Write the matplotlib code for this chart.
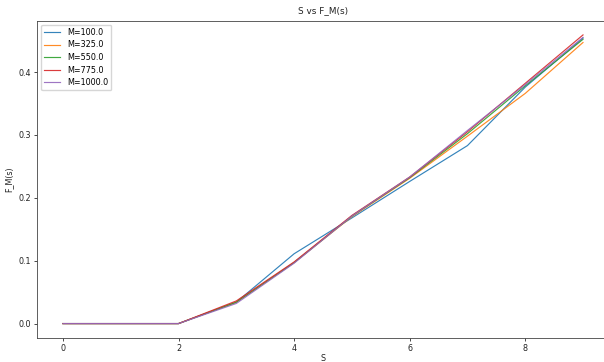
import matplotlib
matplotlib.use("Agg")
import matplotlib.pyplot as plt

s = [0, 1, 2, 3, 4, 5, 6, 7, 8, 9]
labels = ["M=100.0", "M=325.0", "M=550.0", "M=775.0", "M=1000.0"]
f_m100 = [0, 0, 0, 0.034, 0.111, 0.168, 0.226, 0.283, 0.376, 0.454]
f_m325 = [0, 0, 0, 0.034, 0.097, 0.170, 0.231, 0.298, 0.366, 0.447]
f_m550 = [0, 0, 0, 0.034, 0.097, 0.171, 0.232, 0.302, 0.378, 0.452]
f_m775 = [0, 0, 0, 0.036, 0.098, 0.172, 0.233, 0.305, 0.382, 0.459]
f_m1000 = [0, 0, 0, 0.032, 0.096, 0.171, 0.233, 0.307, 0.380, 0.455]
series = [f_m100, f_m325, f_m550, f_m775, f_m1000]

fs = 5.8
fig = plt.figure(figsize=(6.04, 3.62), dpi=100)
ax = fig.add_axes([37/604, 24/362, 572/604, 317.5/362])
for lab, vals in zip(labels, series):
    ax.plot(s, vals, label=lab, lw=0.85, alpha=0.9)

ax.set_title("S vs F_M(s)", fontsize=fs + 0.6, pad=5, color="#222222")
ax.set_xlabel("S", fontsize=fs, labelpad=0.5, color="#222222")
ax.set_ylabel("F_M(s)", fontsize=fs, labelpad=4, color="#222222")
ax.tick_params(labelsize=fs, length=2.2, width=0.5, pad=2, labelcolor="#222222")
for sp in ax.spines.values():
    sp.set_linewidth(0.6)
    sp.set_color("#444444")
ax.legend(loc="upper left", fontsize=fs, handlelength=2.0, borderpad=0.4,
          labelspacing=0.45, framealpha=0.8)
fig.savefig("out.png", dpi=100)
